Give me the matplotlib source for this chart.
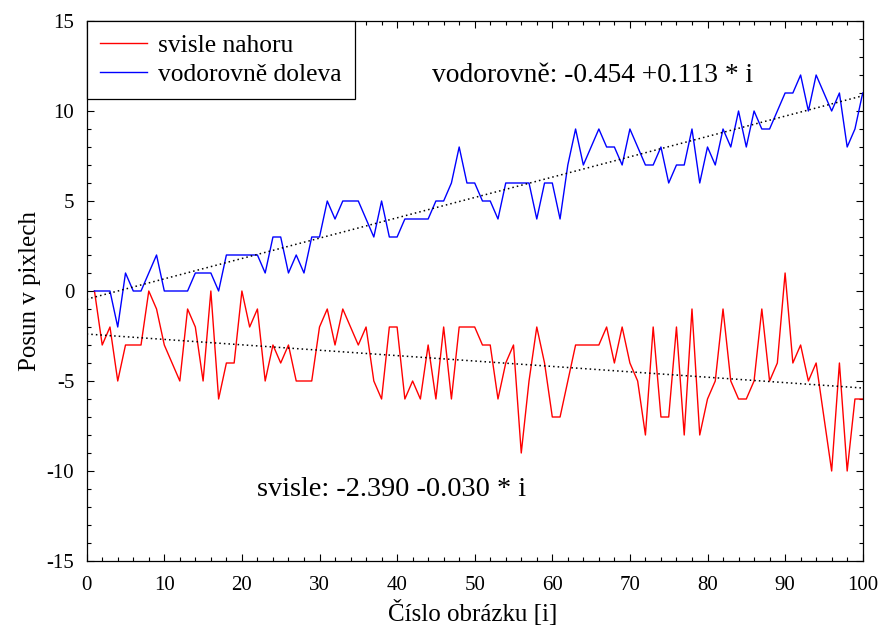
import numpy as np
import matplotlib
matplotlib.use("Agg")
import matplotlib.pyplot as plt
from matplotlib.ticker import MultipleLocator

# Posun obrazu pro jednotlive snimky (i = 1..100)
frames = np.arange(1, 101)

svisle = [0, -3, -2, -5, -3, -3, -3, 0, -1, -3,
          -4, -5, -1, -2, -5, 0, -6, -4, -4, 0,
          -2, -1, -5, -3, -4, -3, -5, -5, -5, -2,
          -1, -3, -1, -2, -3, -2, -5, -6, -2, -2,
          -6, -5, -6, -3, -6, -2, -6, -2, -2, -2,
          -3, -3, -6, -4, -3, -9, -5, -2, -4, -7,
          -7, -5, -3, -3, -3, -3, -2, -4, -2, -4,
          -5, -8, -2, -7, -7, -2, -8, -1, -8, -6,
          -5, -1, -5, -6, -6, -5, -1, -5, -4, 1,
          -4, -3, -5, -4, -7, -10, -4, -10, -6, -6]

vodorovne = [0, 0, 0, -2, 1, 0, 0, 1, 2, 0,
             0, 0, 0, 1, 1, 1, 0, 2, 2, 2,
             2, 2, 1, 3, 3, 1, 2, 1, 3, 3,
             5, 4, 5, 5, 5, 4, 3, 5, 3, 3,
             4, 4, 4, 4, 5, 5, 6, 8, 6, 6,
             5, 5, 4, 6, 6, 6, 6, 4, 6, 6,
             4, 7, 9, 7, 8, 9, 8, 8, 7, 9,
             8, 7, 7, 8, 6, 7, 7, 9, 6, 8,
             7, 9, 8, 10, 8, 10, 9, 9, 10, 11,
             11, 12, 10, 12, 11, 10, 11, 8, 9, 11]

# koeficienty linearni regrese (z obrazku)
fit_svisle = (-2.390, -0.030)
fit_vodorovne = (-0.454, 0.113)

plt.rcParams['font.family'] = ['Liberation Serif', 'DejaVu Serif']
plt.rcParams['axes.unicode_minus'] = False

fig = plt.figure(figsize=(8.79, 6.27), dpi=100)
ax = fig.add_axes([86.7 / 879, 1 - 561 / 627, 776 / 879, 540 / 627])

ax.plot(frames, svisle, color='#ff0000', lw=1.0, label='svisle nahoru')
ax.plot(frames, vodorovne, color='#0000ff', lw=1.0, label='vodorovně doleva')

xf = np.array([0, 100])
ax.plot(xf, fit_svisle[0] + fit_svisle[1] * xf, color='black', lw=1.1,
        linestyle=(0, (1, 2)))
ax.plot(xf, fit_vodorovne[0] + fit_vodorovne[1] * xf, color='black', lw=1.1,
        linestyle=(0, (1, 2)))

ax.text(44.5, 12, 'vodorovně: -0.454 +0.113 * i', fontsize=19.8, va='center', ha='left')
ax.text(22, -11.05, 'svisle: -2.390 -0.030 * i', fontsize=20.3, va='center', ha='left')

ax.set_xlim(0, 100)
ax.set_ylim(-15, 15)
ax.xaxis.set_major_locator(MultipleLocator(10))
ax.xaxis.set_minor_locator(MultipleLocator(2))
ax.yaxis.set_major_locator(MultipleLocator(5))
ax.yaxis.set_minor_locator(MultipleLocator(1))
ax.tick_params(which='both', direction='in', top=True, right=True, labelsize=15)
ax.tick_params(which='major', length=5, width=0.8)
ax.tick_params(axis='x', which='major', pad=11)
ax.tick_params(axis='y', which='major', pad=9)
ax.tick_params(which='minor', length=3, width=0.8)
for s in ax.spines.values():
    s.set_linewidth(0.9)

ax.set_xlabel('Číslo obrázku [i]', fontsize=18, va='center')
ax.xaxis.set_label_coords(0.497, -0.097)
ax.set_ylabel('Posun v pixlech', fontsize=18, va='center')
ax.yaxis.set_label_coords(-0.073, 0.5)

leg = ax.legend(loc='upper left', borderaxespad=0, fontsize=18.4, fancybox=False,
                edgecolor='black', framealpha=1, handlelength=1.85, handletextpad=0.42,
                labelspacing=0.24, borderpad=0.52)
leg.get_frame().set_linewidth(0.9)

fig.savefig('out.png', dpi=100)
